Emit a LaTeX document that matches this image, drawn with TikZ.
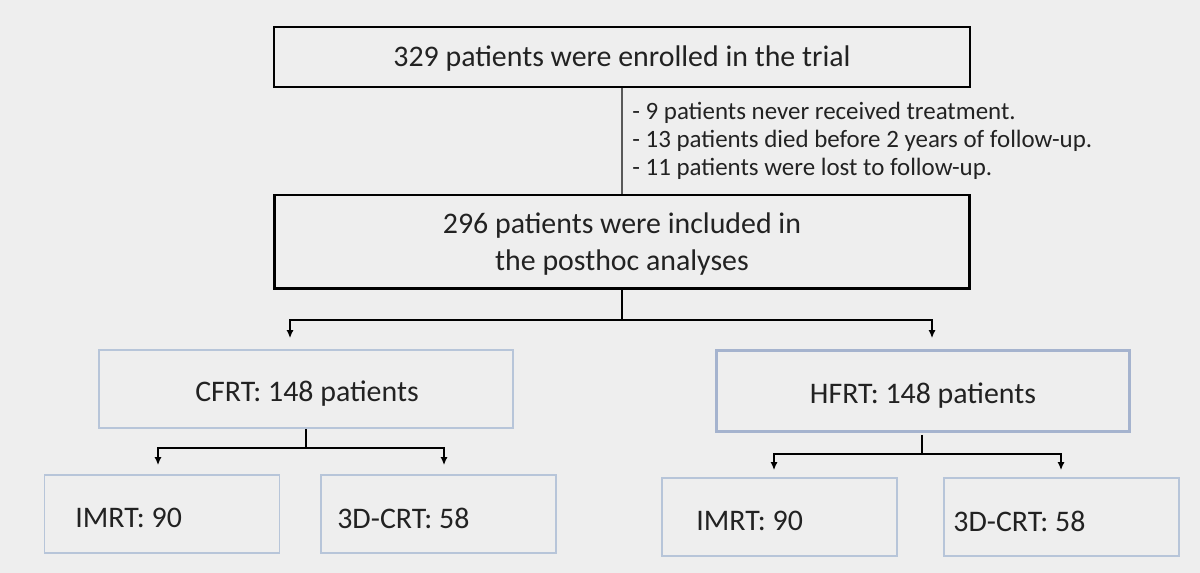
\documentclass[tikz,border=0pt]{standalone}
\usepackage{fontspec}
\setmainfont{Carlito}
\usetikzlibrary{arrows.meta,positioning,calc}
\definecolor{pagebg}{HTML}{EEEEEE}
\definecolor{txtgray}{HTML}{222222}
\definecolor{armblue}{HTML}{B7C5D9}
\definecolor{armblued}{HTML}{A5B3CE}

\tikzset{
  mainbox/.style={draw=black,line width=1.1pt,minimum width=13.92cm},
  armbox/.style={draw=armblue,line width=1.1pt,minimum width=8.3cm,minimum height=1.56cm},
  leafbox/.style={draw=armblue,line width=1.1pt,minimum width=4.7cm,minimum height=1.56cm},
  boxtext/.style={font=\fontsize{17}{21}\selectfont,text=txtgray,inner sep=0pt},
  arr/.style={-{Latex[length=4.5pt,width=4pt]},line width=0.7pt}
}

\begin{document}
\begin{tikzpicture}[x=0.02cm,y=-0.02cm]
  \fill[pagebg] (0,0) rectangle (1200,573);
  \useasboundingbox (0,0) rectangle (1200,573);

  % top of the chart
  \node[mainbox,minimum height=1.2cm] (enroll) at (622,57) {};
  \node[boxtext] (enrolltxt) at (622,59) {329 patients were enrolled in the trial};
  \node[mainbox,line width=1.7pt,minimum height=1.88cm] (incl) at (622,242) {};
  \node[boxtext,align=center] (incltxt) at (622,244) {296 patients were included in\\the posthoc analyses};
  \node[anchor=west,align=left,font=\fontsize{14.2}{16}\selectfont,text=txtgray,inner sep=0pt] (excl) at (632,141)
    {- 9 patients never received treatment.\\- 13 patients died before 2 years of follow-up.\\- 11 patients were lost to follow-up.};
  \draw[line width=0.7pt,black!65] (enroll.south) -- (incl.north);

  % two arms
  \node[armbox] (cfrt) at (306,389) {};
  \node[boxtext] (cfrttxt) at (307,394) {CFRT: 148 patients};
  \node[armbox,draw=armblued,line width=2pt,minimum width=8.26cm,minimum height=1.62cm] (hfrt) at (923,391) {};
  \node[boxtext] (hfrttxt) at (923,396) {HFRT: 148 patients};

  \coordinate (split) at (622,320);
  \coordinate (cfrtin) at (290,338);
  \coordinate (hfrtin) at (932,338);
  \draw[line width=0.7pt] (incl.south) -- (split);
  \draw[arr] (split) -| (cfrtin);
  \draw[arr] (split) -| (hfrtin);

  % leaves
  \node[leafbox] (cimrt) at (162,514) {};
  \node[boxtext,anchor=west] (cimrttxt) at (75,518) {IMRT: 90};
  \node[leafbox] (ccrt) at (438.5,514) {};
  \node[boxtext,anchor=west] (ccrttxt) at (337,518) {3D-CRT: 58};
  \node[leafbox] (himrt) at (779.5,517) {};
  \node[boxtext,anchor=west] (himrttxt) at (696,521) {IMRT: 90};
  \node[leafbox] (hcrt) at (1061.5,517) {};
  \node[boxtext,anchor=west] (hcrttxt) at (953,521) {3D-CRT: 58};

  \coordinate (csplit) at (306,448);
  \coordinate (cimrtin) at (158,465);
  \coordinate (ccrtin) at (444,465);
  \draw[line width=0.7pt] (cfrt.south) -- (csplit);
  \draw[arr] (csplit) -| (cimrtin);
  \draw[arr] (csplit) -| (ccrtin);

  \coordinate (hsplit) at (922,454);
  \coordinate (himrtin) at (774,470);
  \coordinate (hcrtin) at (1061,470);
  \draw[line width=0.7pt] (922,435) -- (hsplit);
  \draw[arr] (hsplit) -| (himrtin);
  \draw[arr] (hsplit) -| (hcrtin);
\end{tikzpicture}
\end{document}
